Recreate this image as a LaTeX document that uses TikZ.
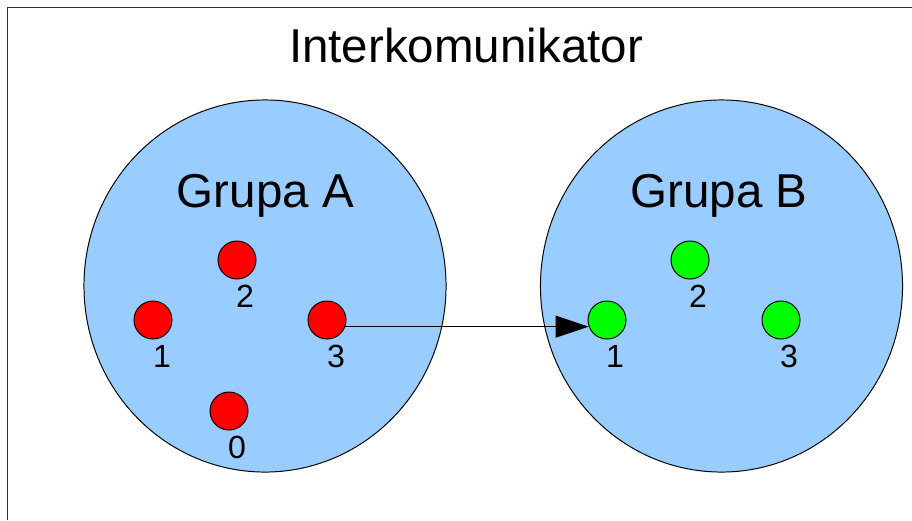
\documentclass[tikz,border=0pt]{standalone}
\usepackage{fontspec}
\setmainfont{Liberation Sans}
\usepackage{tikz}
\usetikzlibrary{arrows.meta,shapes}
\usepackage{xcolor}
\definecolor{grupablue}{HTML}{99CCFF}
\definecolor{ramka}{HTML}{333333}

\begin{document}
\begin{tikzpicture}[x=0.025cm, y=-0.025cm, group/.style={ellipse, draw, line width=0.7pt, fill=grupablue, minimum width=9.05cm, minimum height=9.3cm, inner sep=0}, proc/.style={circle, draw, line width=0.7pt, minimum size=0.95cm, inner sep=0}, num/.style={anchor=base, inner sep=0, font=\fontsize{22.8}{24}\selectfont}, big/.style={anchor=base, inner sep=0, font=\fontsize{33.8}{36}\selectfont}]
\useasboundingbox (0,0) rectangle (912,520);
\draw [ramka, line width=0.8pt] (7.5,520) -- (7.5,7.5) -- (912,7.5);
\node[big] (title) at (466,62) {Interkomunikator};
% grupy
\node[group] (A) at (265,286) {};
\node[group] (B) at (721.5,286) {};
\node[big] (nA) at (265.5,207) {Grupa A};
\node[big] (nB) at (719,207) {Grupa B};
% procesy A
\node[proc, fill=red] (a0) at (229,411) {};
\node[proc, fill=red] (a1) at (153,320) {};
\node[proc, fill=red] (a2) at (237,260) {};
\node[proc, fill=red] (a3) at (327,320) {};
\node[num] (la0) at (237,458) {0};
\node[num] (la1) at (162,367) {1};
\node[num] (la2) at (245,307) {2};
\node[num] (la3) at (336,367) {3};
% procesy B
\node[proc, fill=green] (b1) at (607,320) {};
\node[proc, fill=green] (b2) at (690,260) {};
\node[proc, fill=green] (b3) at (781,320) {};
\node[num] (lb1) at (615,367) {1};
\node[num] (lb2) at (698,307) {2};
\node[num] (lb3) at (789,367) {3};
\draw [-{Triangle[length=23.5pt,width=15.6pt]}, line width=0.7pt] (a3.-20) -- (b1.200);
\end{tikzpicture}
\end{document}
